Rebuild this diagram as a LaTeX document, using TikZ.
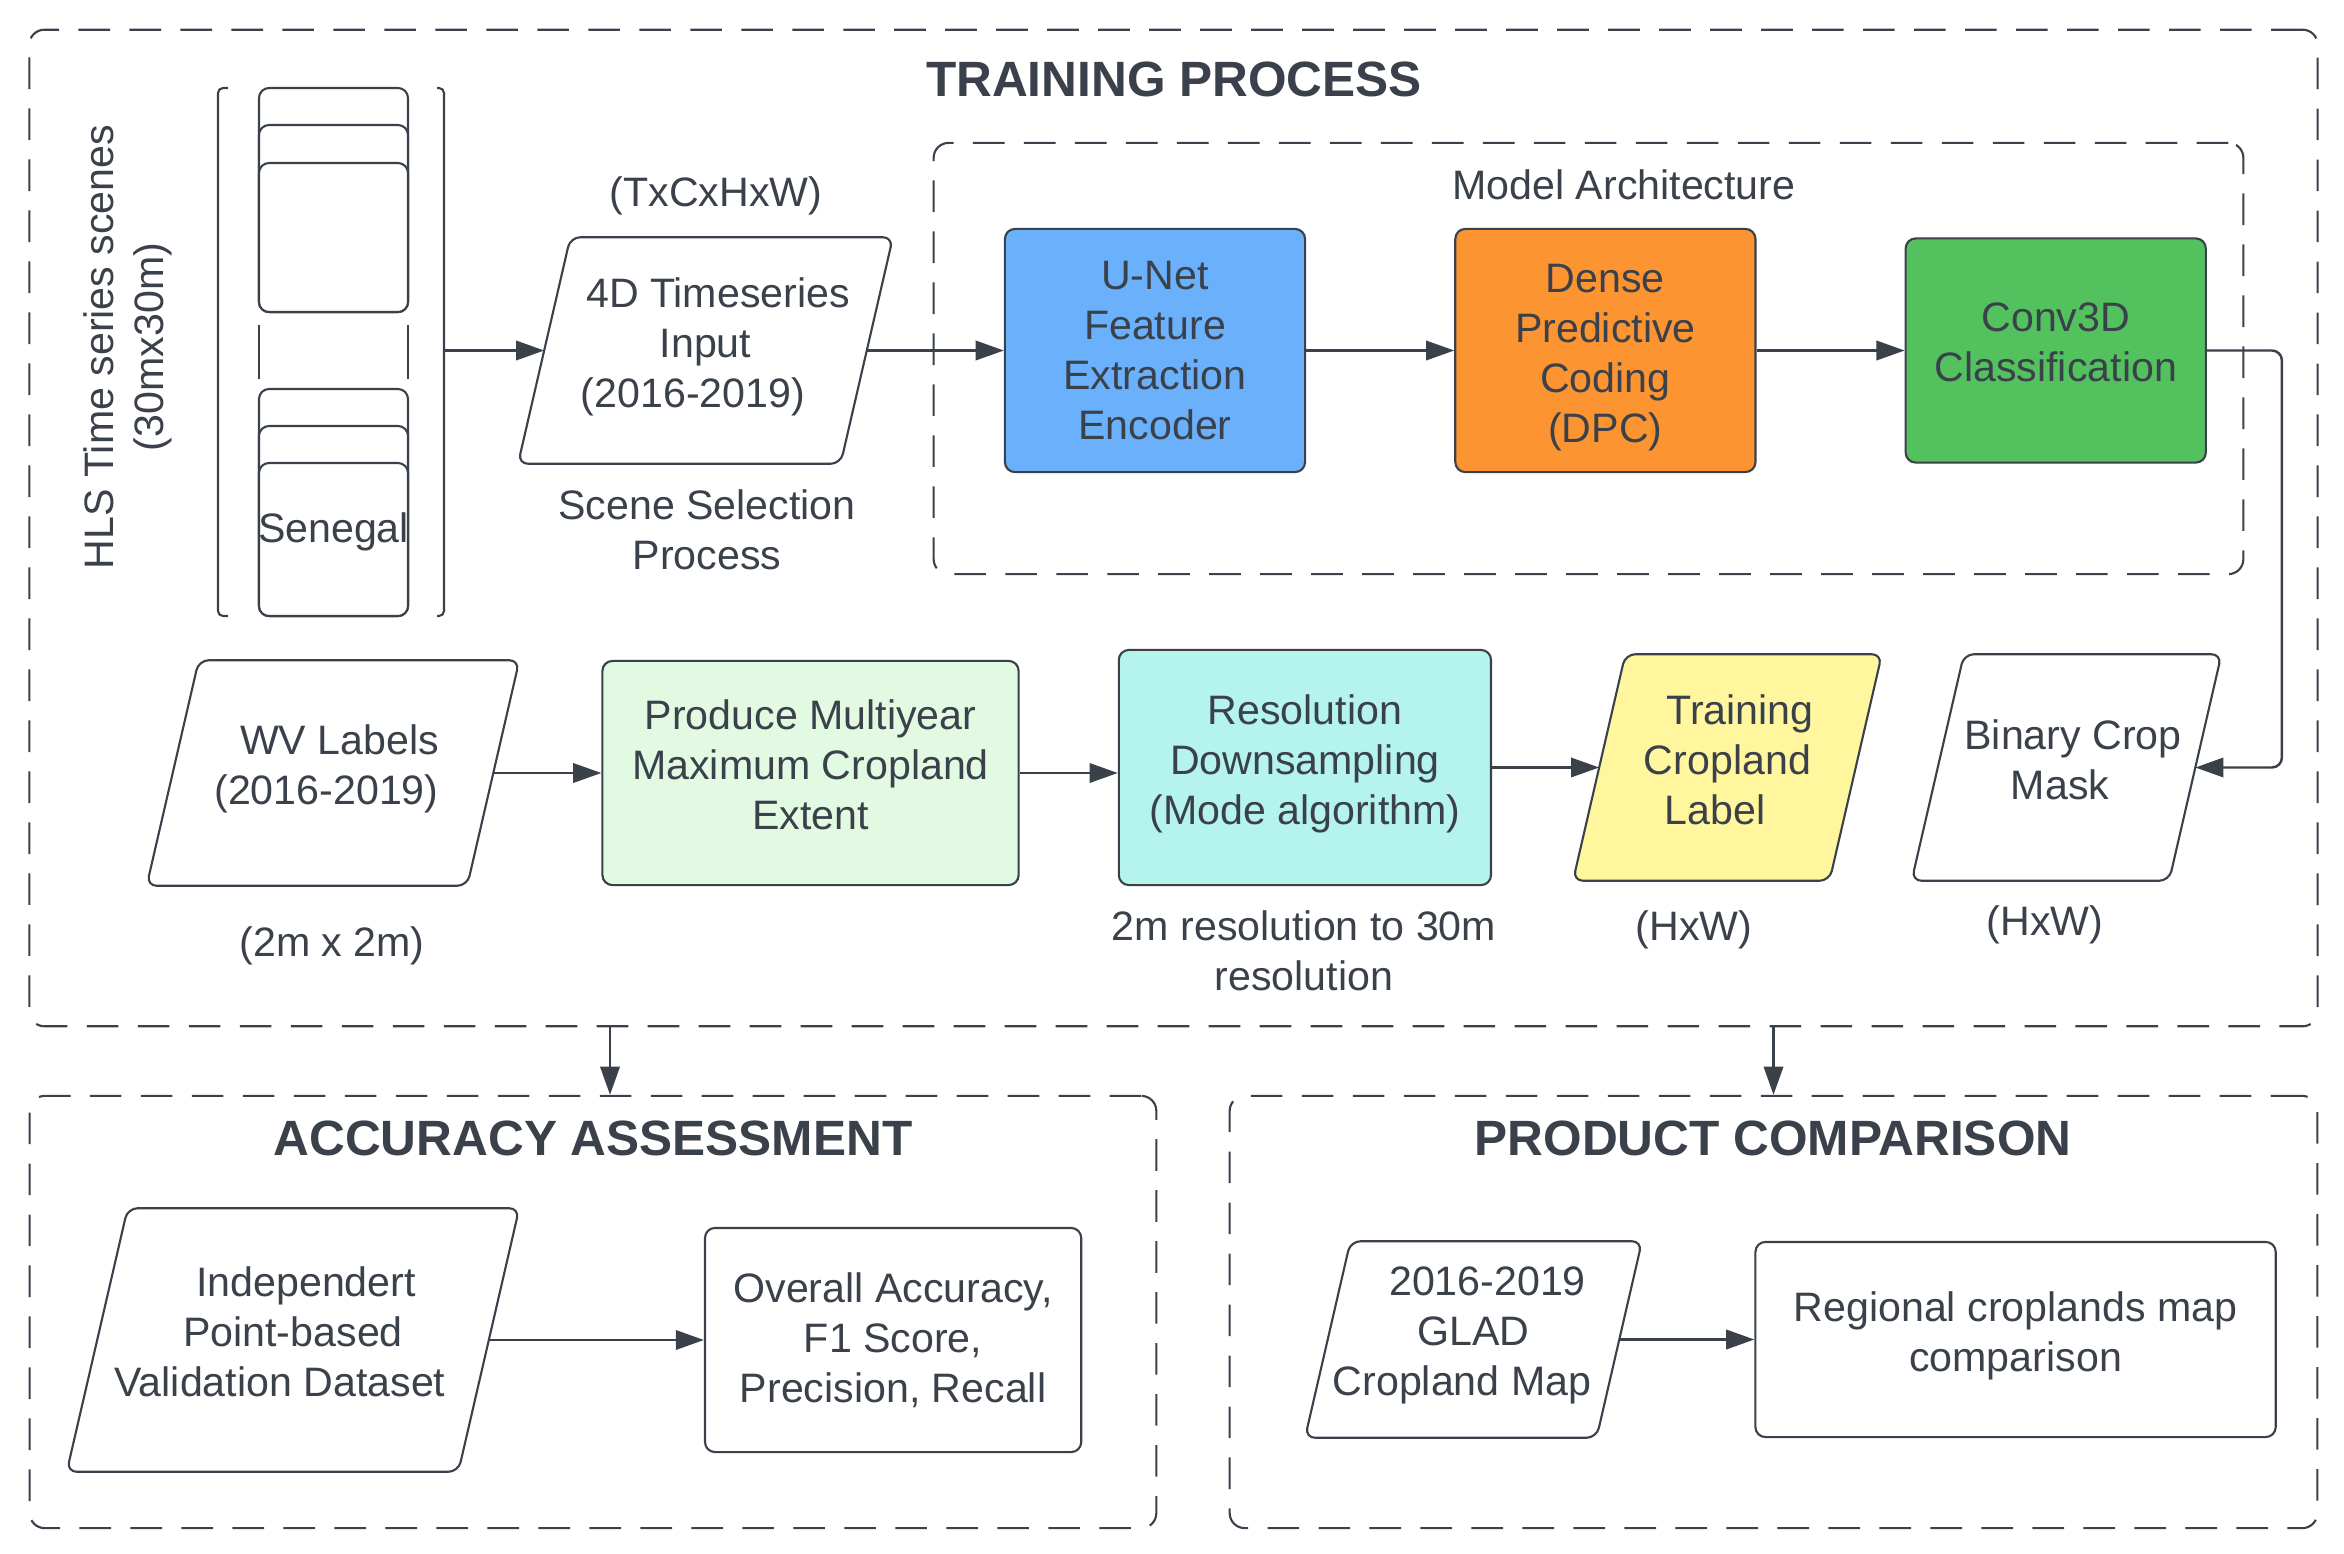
\documentclass[tikz,border=0pt]{standalone}
\usepackage{fontspec}
\setmainfont{Liberation Sans}
\usetikzlibrary{positioning, arrows.meta, calc, backgrounds}

\definecolor{ink}{HTML}{3A414A}
\definecolor{unetblue}{HTML}{6AB0FB}
\definecolor{dpcorange}{HTML}{FC9432}
\definecolor{convgreen}{HTML}{53C25E}
\definecolor{mintgreen}{HTML}{E2FAE2}
\definecolor{aqua}{HTML}{B4F4EC}
\definecolor{labelyellow}{HTML}{FFF69E}

\newcommand{\nudge}[1]{\hspace*{#1cm}}
\newcommand{\lift}{\rule[-0.16cm]{0pt}{0pt}}
% slanted frame round a para node (sides at about 77 degrees)
\newcommand{\paraframe}[2]{%
  \draw[ink, line width=0.6pt, rounded corners=1mm, fill=#2]
    let \p1=(#1.north), \p2=(#1.south), \n1={0.1155*(\y1-\y2)} in
    ([xshift=-\n1]#1.south west) -- ([xshift=\n1]#1.north west)
    -- ([xshift=\n1]#1.north east) -- ([xshift=-\n1]#1.south east) -- cycle;}

\begin{document}
\begin{tikzpicture}[x=0.01cm, y=-0.01cm,
  font=\fontsize{11.7}{14.2}\selectfont, text=ink,
  proc/.style={draw=ink, rectangle, rounded corners=1mm, line width=0.6pt,
               align=center, inner sep=1pt},
  para/.style={rectangle, align=center, inner sep=0pt},
  gbox/.style={draw=ink, dash pattern=on 9pt off 5.5pt, rounded corners=1.5mm, line width=0.6pt},
  card/.style={draw=ink, fill=white, rounded corners=1mm, line width=0.6pt},
  arr/.style={-{Triangle[length=8pt, width=5.5pt]}, draw=ink, line width=0.7pt},
  ttl/.style={font=\fontsize{14.1}{17}\selectfont\bfseries},
  lbl/.style={align=center},
]
\useasboundingbox (0,0) rectangle (2344,1554);

% === Dashed group boxes ===
\node[gbox, minimum width=22.87cm, minimum height=9.96cm] (train) at (1173.5,528) {};
\node[gbox, minimum width=13.09cm, minimum height=4.31cm] (model) at (1588.5,358.5) {};
\node[gbox, minimum width=11.26cm, minimum height=4.32cm] (acc) at (593,1312) {};
\node[gbox, minimum width=10.87cm, minimum height=4.32cm] (prod) at (1773.5,1312) {};

\node[ttl] (trainttl) at (1174,79) {TRAINING PROCESS};
\node[ttl] (accttl) at (593,1138) {ACCURACY ASSESSMENT};
\node[ttl] (prodttl) at (1773,1138) {PRODUCT COMPARISON};
\node (modelttl) at (1624,185) {Model Architecture};

% === HLS scene stack ===
\foreach \t in {88,125,163}
  \draw[card] (259,\t) rectangle (408,312);
\foreach \t in {389,426,463}
  \draw[card] (259,\t) rectangle (408,616);
\draw[ink, line width=0.6pt] (259,325) -- (259,379) (408,325) -- (408,379);
\draw[ink, line width=0.6pt, rounded corners=0.5mm] (228,88) -- (218,88) -- (218,616) -- (228,616);
\draw[ink, line width=0.6pt, rounded corners=0.5mm] (437,88) -- (444,88) -- (444,616) -- (437,616);
\node (senegal) at (333.5,532) {Senegal};
\node[lbl, rotate=90] (hls) at (128,347) {HLS Time series scenes\\(30mx30m)};
\coordinate (stackout) at (444,350.5);

% === Model architecture (top row) ===
\node[proc, fill=unetblue, minimum width=3cm, minimum height=2.43cm] (unet) at (1155,350.5)
     {U-Net\\Feature\\Extraction\\Encoder};
\node[proc, fill=dpcorange, minimum width=3cm, minimum height=2.43cm, right=1.48cm of unet] (dpc)
     {\rule{0pt}{0.42cm}Dense\\Predictive\\Coding\\(DPC)};
\node[proc, fill=convgreen, minimum width=3cm, minimum height=2.24cm, right=1.48cm of dpc] (conv)
     {Conv3D\\Classification\lift};

\node[para, minimum width=3.21cm, minimum height=2.25cm, left=1.37cm of unet] (input4d)
     {\nudge{0.25}4D Timeseries\\Input\\(2016-2019)\nudge{0.25}\lift};
\node (tchw) at (716,196) {(TxCxHxW)};
\node[lbl] (scenesel) at (707,530) {Scene Selection\\Process};

% === Label preparation (middle row) ===
\node[para, minimum width=3.19cm, minimum height=2.24cm] (wv) at (333,773)
     {\nudge{0.13}WV Labels\\(2016-2019)\nudge{0.13}\lift};
\node[proc, fill=mintgreen, minimum width=4.16cm, minimum height=2.24cm, right=1.08cm of wv] (multiyear)
     {Produce Multiyear\\Maximum Cropland\\Extent\lift};
\node[proc, fill=aqua, minimum width=3.72cm, minimum height=2.35cm,
      right=0.98cm of multiyear.south east, anchor=south west] (downsample)
     {Resolution\\Downsampling\\(Mode algorithm)\lift};
\node[para, minimum width=2.55cm, minimum height=2.25cm, right=1.07cm of downsample] (croplabel)
     {\nudge{0.25}Training\\Cropland\\Label\nudge{0.25}\lift};
\node[para, minimum width=2.56cm, minimum height=2.25cm, right=0.82cm of croplabel] (cropmask)
     {\nudge{0.13}Binary Crop\\Mask\nudge{0.13}\lift};

\node (wvres) at (332,946) {(2m x 2m)};
\node[lbl] (dsnote) at (1304,951) {2m resolution to 30m\\resolution};
\node (hwlabel) at (1694,930) {(HxW)};
\node (hwmask) at (2045,925) {(HxW)};

% === Accuracy assessment ===
\node[para, minimum width=3.9cm, minimum height=2.62cm] (indep) at (293,1340)
     {\nudge{0.26}Independert\\Point-based\\Validation Dataset\nudge{0.26}\lift};
\node[proc, minimum width=3.76cm, minimum height=2.24cm, right=2.15cm of indep] (metrics)
     {Overall Accuracy,\\F1 Score,\\Precision, Recall};

% === Product comparison ===
\node[para, minimum width=2.9cm, minimum height=1.95cm] (glad) at (1473.5,1339.5)
     {\nudge{0.28}2016-2019\\GLAD\nudge{0.26}\\Cropland Map\nudge{0.23}\lift};
\node[proc, minimum width=5.2cm, minimum height=1.95cm, right=1.35cm of glad] (regional)
     {Regional croplands map\\comparison\lift};

% === Slanted frames behind the data nodes ===
\begin{scope}[on background layer]
  \paraframe{input4d}{white}
  \paraframe{wv}{white}
  \paraframe{croplabel}{labelyellow}
  \paraframe{cropmask}{white}
  \paraframe{indep}{white}
  \paraframe{glad}{white}
\end{scope}

% === Arrows ===
\draw[arr] (stackout) -- (input4d.west);
\draw[arr] (input4d.east) -- (unet.west);
\draw[arr] (unet) -- (dpc);
\draw[arr] (dpc) -- (conv);
\draw[arr, rounded corners=1mm] (conv.east) -- ++(0.75cm,0) |- (cropmask.east);
\draw[arr] (wv.east) -- (multiyear.west);
\draw[arr] (multiyear.east) -- (multiyear.east -| downsample.west);
\draw[arr] (downsample.east) -- (croplabel.west);
\draw[arr] (indep.east) -- (metrics.west);
\draw[arr] (glad.east) -- (regional.west);

% group to group
\coordinate (accin) at ([xshift=0.17cm]acc.north);
\draw[arr] (train.south -| accin) -- (accin);
\draw[arr] (train.south -| prod.north) -- (prod.north);

\end{tikzpicture}
\end{document}
